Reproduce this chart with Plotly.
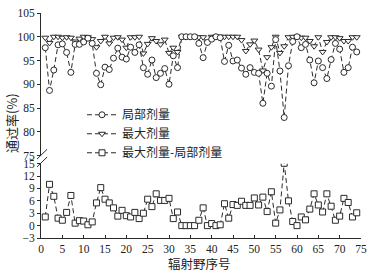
import plotly.graph_objects as go

field_no = list(range(1, 75))

local_dose = [97.7, 88.7, 93.0, 98.3, 98.5, 96.7, 92.5, 98.4, 98.4, 98.9,
              99.7, 98.6, 92.3, 89.9, 93.6, 93.1, 95.5, 97.6, 95.7, 95.3,
              97.8, 96.7, 98.3, 93.5, 92.1, 95.1, 91.4, 92.3, 93.3, 90.0,
              96.0, 93.5, 100.0, 100.0, 100.0, 100.0, 98.6, 95.6, 98.8, 99.5,
              100.0, 99.8, 94.8, 98.2, 94.9, 95.1, 93.4, 92.1, 93.5, 92.5,
              92.3, 86.0, 92.3, 89.6, 99.4, 92.8, 83.0, 93.9, 99.0, 100.0,
              97.7, 98.4, 95.1, 90.3, 94.9, 93.5, 91.2, 95.2, 98.6, 97.4,
              92.5, 93.5, 97.8, 96.8]

max_dose = [99.8, 98.7, 100.0, 100.0, 99.8, 99.9, 99.8, 99.0, 99.6, 100.0,
            99.9, 99.5, 97.8, 99.1, 100.0, 98.6, 99.8, 99.9, 99.4, 97.7,
            99.9, 99.9, 100.0, 96.5, 98.5, 99.7, 99.1, 98.4, 99.4, 96.6,
            97.7, 96.8, 100.0, 100.0, 100.0, 100.0, 99.9, 99.9, 98.8, 100.0,
            100.0, 100.0, 100.0, 100.0, 100.0, 100.0, 99.3, 97.0, 98.4, 99.2,
            97.3, 92.9, 95.7, 97.8, 100.0, 96.6, 98.0, 99.9, 100.0, 100.0,
            99.8, 99.8, 99.1, 98.0, 99.9, 96.8, 98.9, 99.9, 99.9, 99.7,
            99.1, 99.1, 99.9, 99.9]

diff_dose = [2.1, 10.0, 7.1, 1.8, 1.3, 3.2, 7.3, 0.6, 1.2, 1.1,
             0.2, 0.9, 5.5, 9.2, 6.4, 5.5, 4.3, 2.3, 3.7, 2.4,
             2.1, 3.2, 1.7, 3.0, 6.4, 4.6, 7.7, 6.1, 6.1, 6.6,
             1.7, 3.3, 0.0, 0.0, 0.0, 0.0, 1.3, 4.3, 0.0, 0.5,
             0.0, 0.2, 5.3, 1.8, 5.1, 4.9, 5.9, 4.9, 4.9, 6.7,
             5.0, 6.9, 3.4, 8.2, 0.6, 3.8, 15.1, 6.0, 1.0, 0.0,
             2.1, 1.4, 4.0, 7.7, 5.0, 3.3, 7.7, 4.7, 1.3, 2.3,
             6.6, 5.6, 2.1, 3.1]

names = ["局部剂量", "最大剂量", "最大剂量-局部剂量"]

INK = "#2a2a2a"
SERIF = "Liberation Serif, Noto Sans CJK SC, serif"
CJK = "Noto Sans CJK SC, sans-serif"

line_style = dict(color=INK, width=1, dash="5px,3px")


def mk(symbol):
    return dict(symbol=symbol, size=6, color="white", line=dict(color=INK, width=1))


fig = go.Figure()
fig.add_trace(go.Scatter(x=field_no, y=max_dose, name=names[1], mode="lines+markers",
                         line=line_style, marker=mk("triangle-down"), yaxis="y2",
                         legendrank=2))
fig.add_trace(go.Scatter(x=field_no, y=local_dose, name=names[0], mode="lines+markers",
                         line=line_style, marker=mk("circle"), yaxis="y2",
                         legendrank=1))
fig.add_trace(go.Scatter(x=field_no, y=diff_dose, name=names[2], mode="lines+markers",
                         line=line_style, marker=mk("square"), yaxis="y",
                         legendrank=3))

W, H = 374, 273
ml, mr, mt, mb = 41, 13, 7, 35
pw, ph = W - ml - mr, H - mt - mb


def px_x(p):
    return (p - ml) / pw


def px_y(p):
    return (H - mb - p) / ph


upper_bottom = px_y(153.3)
lower_top = px_y(161.7)

axis_common = dict(showline=True, linecolor=INK, linewidth=1, showgrid=False,
                   zeroline=False, ticks="outside", ticklen=3, tickcolor=INK,
                   tickfont=dict(family=SERIF, size=11.5, color="#222"))

fig.update_layout(
    width=W, height=H,
    margin=dict(l=ml, r=mr, t=mt, b=mb),
    paper_bgcolor="white", plot_bgcolor="white",
    showlegend=True,
    legend=dict(x=px_x(82), y=px_y(131), xanchor="left", yanchor="middle",
                bgcolor="rgba(0,0,0,0)", font=dict(family=CJK, size=12, color="#222"),
                itemwidth=30, tracegroupgap=0),
    xaxis=dict(range=[0, 75], tickvals=list(range(0, 76, 5)), anchor="y",
               **{**axis_common, "ticks": "inside"}),
    yaxis=dict(domain=[0, lower_top], range=[-3, 15], tickvals=list(range(-3, 16, 3)),
               anchor="x", **axis_common),
    yaxis2=dict(domain=[upper_bottom, 1], range=[75, 105], tickvals=list(range(75, 106, 5)),
                anchor="x", **axis_common),
    annotations=[
        dict(text="通过率(%)", x=px_x(11), y=px_y(120), xref="paper", yref="paper",
             xanchor="center", yanchor="middle",
             textangle=-90, showarrow=False, font=dict(family=CJK, size=13, color="#222")),
        dict(text="辐射野序号", x=px_x(199), y=px_y(264), xref="paper", yref="paper",
             xanchor="center", yanchor="middle",
             showarrow=False, font=dict(family=CJK, size=12.5, color="#222")),
    ],
    shapes=[
        dict(type="line", xref="paper", yref="paper", x0=px_x(37), y0=px_y(157),
             x1=px_x(47), y1=px_y(147), line=dict(color=INK, width=1)),
        dict(type="line", xref="paper", yref="paper", x0=px_x(37), y0=px_y(165),
             x1=px_x(47), y1=px_y(155), line=dict(color=INK, width=1)),
    ],
)

fig.write_html("out.html")
